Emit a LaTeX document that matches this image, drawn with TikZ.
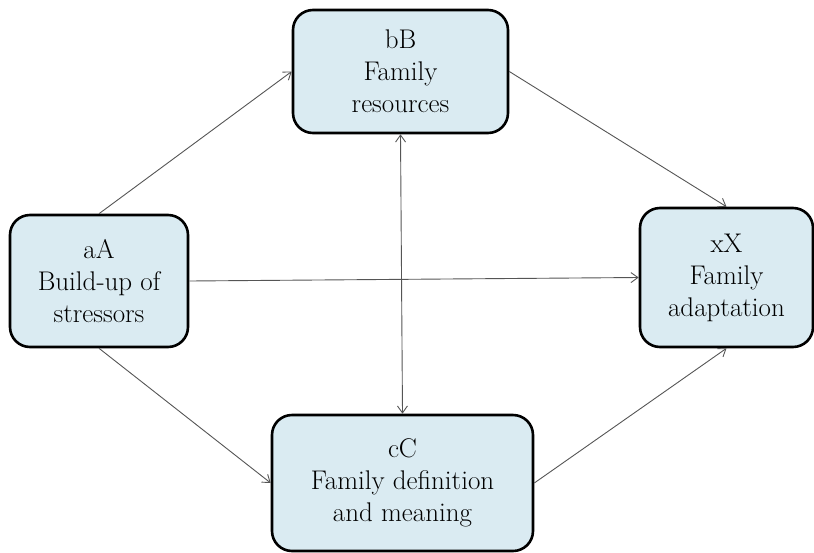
\documentclass[tikz,border=0pt]{standalone}
\usepackage{xcolor}
\usepackage{tikz}
\usetikzlibrary{arrows.meta}
\definecolor{boxfill}{HTML}{DAEBF2}
\definecolor{boxline}{HTML}{000000}
\definecolor{linkc}{HTML}{555555}
\tikzset{
  stage/.style={draw=boxline, fill=boxfill, line width=2.6pt, rounded corners=20pt,
    align=center, inner sep=2pt, font=\fontsize{27}{32}\selectfont},
  link/.style={draw=linkc, line width=0.9pt, -{Straight Barb[length=7pt,width=10pt]}},
  twoway/.style={draw=linkc, line width=0.9pt, {Straight Barb[length=7pt,width=10pt]}-{Straight Barb[length=7pt,width=10pt]}},
}

\begin{document}
\begin{tikzpicture}[x=1pt,y=-1pt]
  \useasboundingbox (0,0) rectangle (814,552);
  \node[stage, minimum width=178pt, minimum height=132pt] (stress) at (99,281) {aA\\Build-up of\\stressors};
  \node[stage, minimum width=215pt, minimum height=123pt] (res) at (400.5,71.5) {bB\\Family\\resources};
  \node[stage, minimum width=173pt, minimum height=139pt] (adapt) at (726.5,277.5) {xX\\Family\\adaptation};
  \node[stage, minimum width=261pt, minimum height=136pt] (mean) at (402.5,483) {cC\\Family definition\\and meaning};
  \draw[link] (stress.north) -- (res.west);
  \draw[link] (res.east) -- (adapt.north);
  \draw[link] (stress.east) -- (adapt.west);
  \draw[link] (stress.south) -- (mean.west);
  \draw[link] (mean.east) -- (adapt.south);
  \draw[twoway] (res.south) -- (mean.north);
\end{tikzpicture}
\end{document}
